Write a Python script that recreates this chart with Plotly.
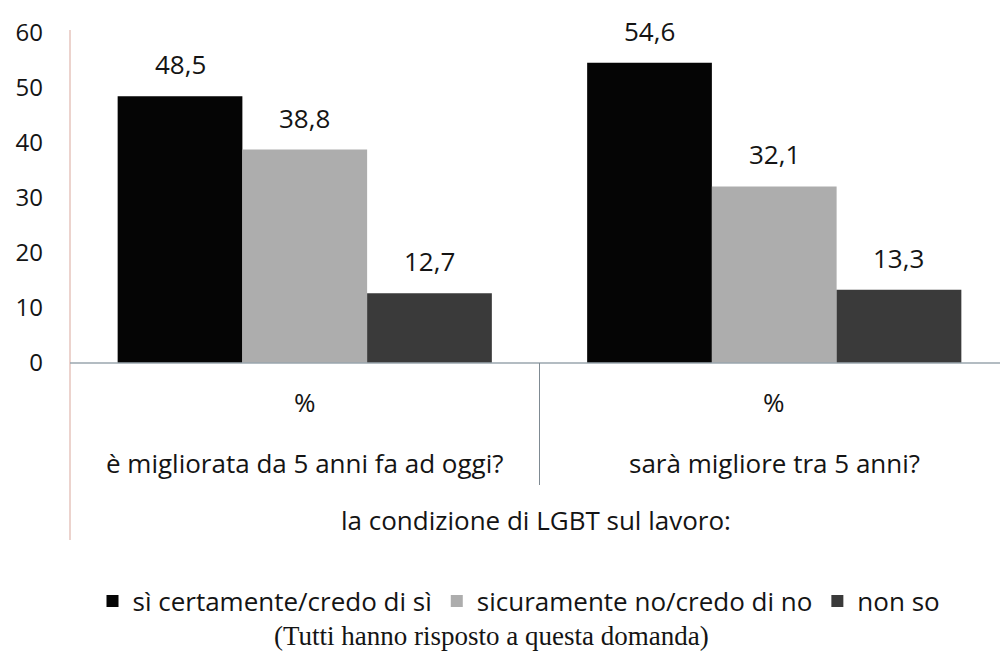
import plotly.graph_objects as go

# Survey answers, percentage of respondents per question
questions = ["è migliorata da 5 anni fa ad oggi?", "sarà migliore tra 5 anni?"]
unit_label = "%"
series_names = ["sì certamente/credo di sì", "sicuramente no/credo di no", "non so"]
si_values = [48.5, 54.6]
no_values = [38.8, 32.1]
nonso_values = [12.7, 13.3]
y_ticks = [0, 10, 20, 30, 40, 50, 60]
group_title = "la condizione di LGBT sul lavoro:"
footnote = "(Tutti hanno risposto a questa domanda)"

colors = ["#050505", "#adadad", "#3a3a3a"]
series_values = [si_values, no_values, nonso_values]

FONT = "Open Sans"
TXT = "#141414"
FS = 26

W, H = 1000, 653
ML, MR, MT, MB = 70, 0, 33, 290
plot_h = H - MT - MB


def py(pix):
    """Paper y coordinate for a pixel row of the page."""
    return (H - MB - pix) / plot_h


def px(pix):
    return (pix - ML) / (W - ML - MR)


fig = go.Figure()
for name, vals, col in zip(series_names, series_values, colors):
    fig.add_trace(go.Bar(
        x=questions, y=vals, name=name,
        marker=dict(color=col, line=dict(width=0)),
    ))

# value labels above each bar
bar_w = 0.2656
for i, vals in enumerate(series_values):
    for j, v in enumerate(vals):
        fig.add_annotation(
            x=j + (i - 1) * bar_w, y=v, xref="x", yref="y",
            text=f"{v:.1f}".replace(".", ","), showarrow=False,
            yanchor="bottom", yshift=12,
            font=dict(family=FONT, size=FS, color=TXT),
        )

# category labels
for j, q in enumerate(questions):
    fig.add_annotation(x=j, y=py(402), xref="x", yref="paper", text=unit_label,
                       showarrow=False, yanchor="middle",
                       font=dict(family=FONT, size=FS, color=TXT))
    fig.add_annotation(x=j, y=py(463), xref="x", yref="paper", text=q,
                       showarrow=False, yanchor="middle",
                       font=dict(family=FONT, size=FS, color=TXT))
fig.add_annotation(x=px(536), y=py(520), xref="paper", yref="paper", text=group_title,
                   showarrow=False, yanchor="middle",
                   font=dict(family=FONT, size=FS, color=TXT))
fig.add_annotation(x=px(491), y=py(636), xref="paper", yref="paper", text=footnote,
                   showarrow=False, yanchor="middle",
                   font=dict(family="Liberation Serif", size=27, color=TXT))

# axis lines
fig.add_shape(type="line", xref="paper", yref="paper", x0=0, x1=0,
              y0=py(540), y1=py(30), line=dict(color="#d9a79c", width=1))
fig.add_shape(type="line", xref="paper", yref="paper", x0=0, x1=1,
              y0=0, y1=0, line=dict(color="#9aa6ae", width=1.5))
fig.add_shape(type="line", xref="x", yref="paper", x0=0.5, x1=0.5,
              y0=py(485), y1=0, line=dict(color="#7f8a92", width=1))

fig.update_layout(
    width=W, height=H,
    margin=dict(l=ML, r=MR, t=MT, b=MB),
    paper_bgcolor="white", plot_bgcolor="white",
    barmode="group", bargap=0.203, bargroupgap=0,
    showlegend=True,
    legend=dict(
        orientation="h", x=px(519), xanchor="center", y=py(601), yanchor="middle",
        font=dict(family=FONT, size=FS, color=TXT), itemsizing="constant",
        bgcolor="rgba(0,0,0,0)", itemwidth=30,
    ),
    xaxis=dict(range=[-0.5, -0.5 + (W - ML - MR) / 469.5], showticklabels=False,
               showgrid=False, zeroline=False, showline=False, ticks=""),
    yaxis=dict(range=[0, 60], tickvals=y_ticks, showgrid=False, zeroline=False,
               showline=False, ticks="", ticklabelstandoff=26,
               tickfont=dict(family=FONT, size=24, color=TXT)),
)

fig.write_html("out.html")
